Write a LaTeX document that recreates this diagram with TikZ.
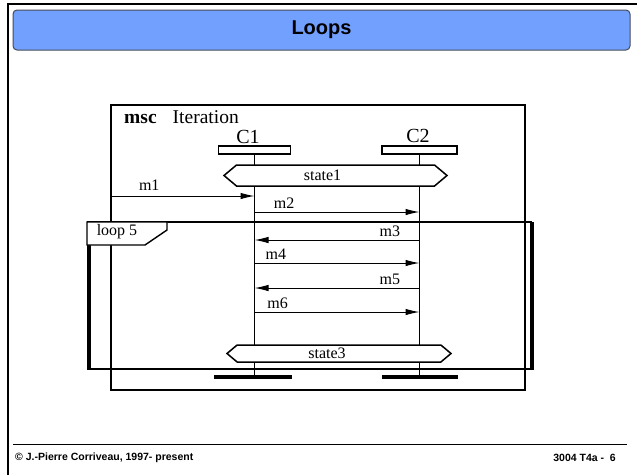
\documentclass[tikz,border=0pt]{standalone}
\usepackage{fontspec}
\setmainfont{Liberation Serif}
\newfontfamily\arialfont{Liberation Sans}
\usetikzlibrary{arrows.meta,shapes.symbols}
\definecolor{titleblue}{RGB}{114,160,255}
\definecolor{titleedge}{RGB}{70,75,90}

\begin{document}
\begin{tikzpicture}[x=1pt,y=-1pt,
        msg/.style={-{Latex[length=14pt,width=6.5pt]}, line width=1pt},
        msglabel/.style={font=\fontsize{16}{18}\selectfont, inner sep=0pt},
        headbox/.style={draw, line width=1.5pt, fill=white, minimum height=8pt, inner sep=0pt},
        statebox/.style={draw, line width=1.5pt, fill=white, signal, signal to=west and east,
            signal pointer angle=80, inner sep=0pt},
        stopbar/.style={fill=black, minimum height=4pt, inner sep=0pt}]
        \useasboundingbox (0,0) rectangle (637,475);
        % slide frame
        \draw[line width=2pt] (8,475) -- (8,4) -- (637,4);
        \node[draw=titleedge, line width=1pt, fill=titleblue, rounded corners=4pt,
            minimum width=617pt, minimum height=40pt] (title) at (321.5,30)
            {\arialfont\bfseries\fontsize{20}{23}\selectfont Loops};
        \coordinate (footl) at (13,444);
        \coordinate (footr) at (627,444);
        \draw[line width=0.8pt] (footl) -- (footr);
        \node[anchor=west, inner sep=0pt] (author) at (15,458)
            {\arialfont\bfseries\fontsize{10.5}{12}\selectfont \textcopyright{} J.-Pierre Corriveau, 1997- present};
        \node[anchor=east, inner sep=0pt] (page) at (616,458)
            {\arialfont\bfseries\fontsize{10.5}{12}\selectfont 3004 T4a -\ \ 6};

        % msc frame
        \node[draw, line width=1.4pt, minimum width=414pt, minimum height=285pt] (msc) at (318,247.5) {};
        \node[anchor=base west, inner sep=0pt, font=\fontsize{19.5}{22}\selectfont] (mscname) at (124,123)
            {\textbf{msc}\hspace{16pt}Iteration};

        % instances
        \node[headbox, minimum width=72pt] (c1head) at (254.5,150) {};
        \node[headbox, minimum width=75pt] (c2head) at (419.5,150) {};
        \node[inner sep=0pt, font=\fontsize{20}{22}\selectfont] (c1name) at (248,137) {C1};
        \node[inner sep=0pt, font=\fontsize{20}{22}\selectfont] (c2name) at (418,136) {C2};
        \node[stopbar, minimum width=78pt] (c1stop) at (253,377) {};
        \node[stopbar, minimum width=76pt] (c2stop) at (420,377) {};
        \draw[line width=1.4pt] (c1head.south) -- (c1head |- c1stop);
        \draw[line width=1.4pt] (c2head.south) -- (c2head |- c2stop);

        % conditions
        \node[statebox, minimum width=223pt, minimum height=21pt,
            label={[xshift=-13pt, msglabel]center:state1}] (state1) at (335.5,175.5) {};
        \node[statebox, minimum width=224pt, minimum height=17pt,
            label={[xshift=-12pt, msglabel]center:state3}] (state3) at (339,353.5) {};

        % messages
        \coordinate (m1in) at (msc.west |- 0,196);
        \draw[msg] (m1in) -- (c1head |- m1in) node[msglabel, pos=0.27, above=5pt] (m1) {m1};
        \draw[msg] (c1head |- 0,212) -- (c2head |- 0,212) node[msglabel, pos=0.18, above=3pt] (m2) {m2};
        \draw[msg] (c2head |- 0,240) -- (c1head |- 0,240) node[msglabel, pos=0.18, above=3pt] (m3) {m3};
        \draw[msg] (c1head |- 0,263) -- (c2head |- 0,263) node[msglabel, pos=0.13, above=3pt] (m4) {m4};
        \draw[msg] (c2head |- 0,288) -- (c1head |- 0,288) node[msglabel, pos=0.18, above=3pt] (m5) {m5};
        \draw[msg] (c1head |- 0,312) -- (c2head |- 0,312) node[msglabel, pos=0.14, above=3pt] (m6) {m6};

        % loop frame
        \draw[line width=1.4pt] (87,222) -- (532,222);
        \draw[line width=1.4pt] (89,369) -- (532,369);
        \draw[line width=3.5pt] (532,222) -- (532,369.7);
        \draw[line width=3.5pt] (89,245) -- (89,369.7);
        \draw[line width=1.4pt, fill=white] (87,222) -- (167,222) -- (167,230) -- (145,245) -- (87,245) -- cycle;
        \node[msglabel] (loop) at (117,232) {loop 5};
\end{tikzpicture}
\end{document}
